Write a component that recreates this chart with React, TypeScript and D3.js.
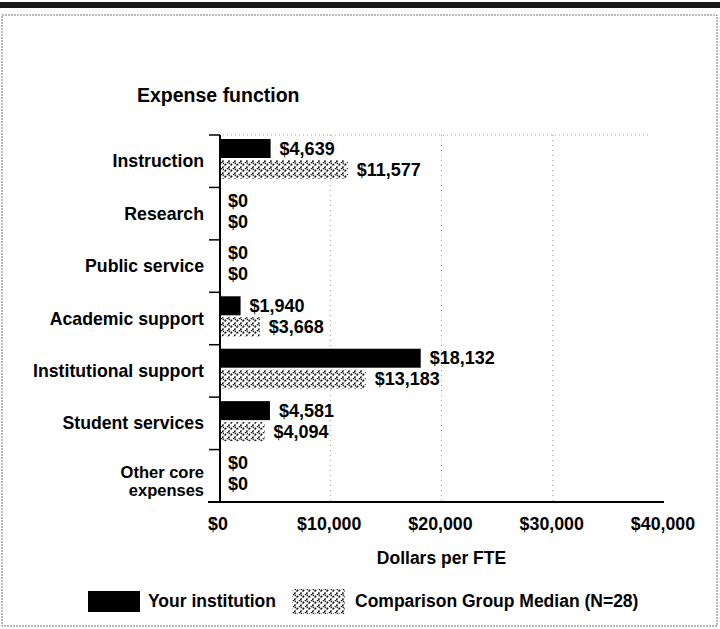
import React from "react";
import * as d3 from "d3";

const categories = [
  "Instruction",
  "Research",
  "Public service",
  "Academic support",
  "Institutional support",
  "Student services",
  "Other core expenses",
];
const categoryLines = [
  ["Instruction"],
  ["Research"],
  ["Public service"],
  ["Academic support"],
  ["Institutional support"],
  ["Student services"],
  ["Other core", "expenses"],
];
const yourInstitution = [4639, 0, 0, 1940, 18132, 4581, 0];
const comparisonMedian = [11577, 0, 0, 3668, 13183, 4094, 0];
const xTicks = [0, 10000, 20000, 30000, 40000];
const seriesNames = ["Your institution", "Comparison Group Median (N=28)"];

const W = 720;
const H = 629;
const FONT = "'Liberation Sans', Arial, sans-serif";

export default function App() {
  const x = d3.scaleLinear().domain([0, 40000]).range([219, 664]);
  const y = d3.scaleBand<string>().domain(categories).range([135, 502]).padding(0);
  const fmt = (v: number) => "$" + d3.format(",")(v);
  const barH = 19;

  return (
    <svg
      width={W}
      height={H}
      style={{ position: "absolute", left: 0, top: 0, background: "#fff" }}
      fontFamily={FONT}
    >
      <defs>
        <pattern id="hatch" width="6" height="6" patternUnits="userSpaceOnUse">
          <rect width="6" height="6" fill="#fff" />
          <path d="M0,6 L6,0" stroke="#111" strokeWidth="1.5" strokeDasharray="2.2,1.4" />
          <path d="M0.5,0.5 L2,2" stroke="#222" strokeWidth="1.1" />
        </pattern>
      </defs>

      {/* top scan band and frame */}
      <rect x={0} y={2} width={W} height={6} fill="#1a1a1a" />
      <rect
        x={2}
        y={15}
        width={715}
        height={611}
        fill="none"
        stroke="#777"
        strokeWidth={1}
        strokeDasharray="2,1"
      />

      {/* title */}
      <text x={137} y={95} fontSize={19.5} fontWeight="bold" dominantBaseline="central">
        Expense function
      </text>

      {/* gridlines */}
      <line x1={x(0)} x2={x(40000) - 14} y1={135} y2={135} stroke="#aaa" strokeDasharray="1,3" />
      {xTicks.slice(1, 4).map((t) => (
        <line key={t} x1={x(t)} x2={x(t)} y1={135} y2={502} stroke="#999" strokeDasharray="1,4" />
      ))}

      {/* bars */}
      {categories.map((c, i) => {
        const b = y(c) as number;
        return (
          <g key={c}>
            <rect x={x(0)} y={b + 4} width={x(yourInstitution[i]) - x(0)} height={barH} fill="#000" />
            <rect
              x={x(0)}
              y={b + 25}
              width={x(comparisonMedian[i]) - x(0)}
              height={barH}
              fill="url(#hatch)"
            />
            <text
              x={x(yourInstitution[i]) + 9}
              y={b + 4 + barH / 2}
              fontSize={18}
              fontWeight="bold"
              dominantBaseline="central"
            >
              {fmt(yourInstitution[i])}
            </text>
            <text
              x={x(comparisonMedian[i]) + 9}
              y={b + 25 + barH / 2}
              fontSize={18}
              fontWeight="bold"
              dominantBaseline="central"
            >
              {fmt(comparisonMedian[i])}
            </text>
          </g>
        );
      })}

      {/* y axis */}
      <line x1={220} x2={220} y1={135} y2={502} stroke="#000" strokeWidth={2} />
      {categories.map((c) => (
        <line key={c} x1={209} x2={220} y1={y(c) as number} y2={y(c) as number} stroke="#000" strokeWidth={1.5} />
      ))}
      <line x1={209} x2={220} y1={502} y2={502} stroke="#000" strokeWidth={1.5} />
      {categories.map((c, i) => {
        const mid = (y(c) as number) + y.bandwidth() / 2;
        const lines = categoryLines[i];
        const lh = 18;
        const fs = lines.length > 1 ? 16.5 : 17.7;
        const shift = lines.length > 1 ? 5 : 0;
        return (
          <text key={c} x={204} fontSize={fs} fontWeight="bold" textAnchor="end">
            {lines.map((l, j) => (
              <tspan
                key={j}
                x={204}
                y={mid + shift - ((lines.length - 1) * lh) / 2 + j * lh}
                dominantBaseline="central"
              >
                {l}
              </tspan>
            ))}
          </text>
        );
      })}

      {/* x axis */}
      <line x1={208} x2={x(40000)} y1={502} y2={502} stroke="#000" strokeWidth={2} />
      {xTicks.map((t) => (
        <text
          key={t}
          x={x(t) - 1}
          y={524}
          fontSize={17.8}
          fontWeight="bold"
          textAnchor="middle"
          dominantBaseline="central"
        >
          {fmt(t)}
        </text>
      ))}
      <text
        x={(x(0) + x(40000)) / 2}
        y={558}
        fontSize={17.5}
        fontWeight="bold"
        textAnchor="middle"
        dominantBaseline="central"
      >
        Dollars per FTE
      </text>

      {/* legend */}
      <rect x={88} y={591} width={52} height={21} fill="#000" />
      <text x={148} y={601} fontSize={17.5} fontWeight="bold" dominantBaseline="central">
        {seriesNames[0]}
      </text>
      <rect x={292} y={589} width={53} height={25} fill="url(#hatch)" />
      <text x={355} y={601} fontSize={17.5} fontWeight="bold" dominantBaseline="central">
        {seriesNames[1]}
      </text>
    </svg>
  );
}
